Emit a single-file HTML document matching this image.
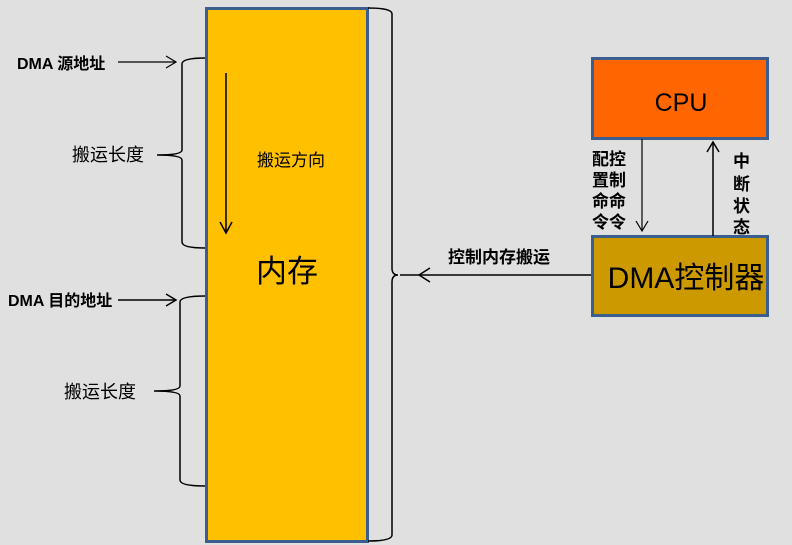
<!DOCTYPE html>
<html><head><meta charset="utf-8"><style>
html,body{margin:0;padding:0;background:#e0e0e0;}
svg{display:block;}
text{font-family:"Liberation Sans","Noto Sans CJK SC",sans-serif;fill:#000;}
</style></head><body>
<svg width="792" height="545" viewBox="0 0 792 545" xmlns="http://www.w3.org/2000/svg">
<rect width="792" height="545" fill="#e0e0e0"/>
<!-- memory -->
<rect x="206.5" y="8.5" width="161" height="533" fill="#ffc000" stroke="#3a5f8f" stroke-width="3"/>
<text x="287" y="282" font-size="31" text-anchor="middle" font-family="Noto Sans CJK SC, sans-serif">内存</text>
<text x="291" y="166" font-size="17" text-anchor="middle">搬运方向</text>
<line x1="226" y1="73" x2="226" y2="232" stroke="#000" stroke-width="1.5"/>
<polyline points="220,222 226,233 232,222" fill="none" stroke="#000" stroke-width="1.5"/>
<!-- right brace -->
<path d="M368,8 Q392,8 392,14 L392,268 Q392,275 398,275 Q392,275 392,282 L392,535 Q392,541 368,541" fill="none" stroke="#000" stroke-width="1.5"/>
<!-- left brace 1 -->
<path d="M205,58 Q182,58 182,64 L182,150 Q182,155 157,155 Q182,155 182,160 L182,242 Q182,248 205,248" fill="none" stroke="#000" stroke-width="1.5"/>
<!-- left brace 2 -->
<path d="M205,296 Q180,296 180,302 L180,386 Q180,391 154,391 Q180,391 180,396 L180,480 Q180,486 205,486" fill="none" stroke="#000" stroke-width="1.5"/>
<text x="17" y="69" font-size="16" font-weight="bold">DMA 源地址</text>
<line x1="118" y1="62" x2="176" y2="62" stroke="#000" stroke-width="1.2"/>
<polyline points="166,56 176,62 166,68" fill="none" stroke="#000" stroke-width="1.2"/>
<text x="72" y="161" font-size="18">搬运长度</text>
<text x="8" y="306" font-size="16" font-weight="bold">DMA 目的地址</text>
<line x1="118" y1="300" x2="176" y2="300" stroke="#000" stroke-width="1.5"/>
<polyline points="166,294 176,300 166,306" fill="none" stroke="#000" stroke-width="1.5"/>
<text x="64" y="398" font-size="18">搬运长度</text>
<!-- CPU -->
<rect x="592.5" y="58.5" width="175" height="80" fill="#ff6600" stroke="#3a5f8f" stroke-width="3"/>
<text x="681" y="111" font-size="25" text-anchor="middle">CPU</text>
<!-- DMA -->
<rect x="592.5" y="236.5" width="175" height="79" fill="#cc9900" stroke="#3a5f8f" stroke-width="3"/>
<text x="686" y="288" font-size="30" text-anchor="middle">DMA<tspan font-family="Noto Sans CJK SC, sans-serif">控制器</tspan></text>
<!-- arrows -->
<line x1="642" y1="139" x2="642" y2="231" stroke="#000" stroke-width="1.2"/>
<polyline points="636,221 642,231 648,221" fill="none" stroke="#000" stroke-width="1.2"/>
<line x1="713" y1="236" x2="713" y2="142" stroke="#000" stroke-width="1.5"/>
<polyline points="707,152 713,142 719,152" fill="none" stroke="#000" stroke-width="1.5"/>
<line x1="591" y1="275" x2="400" y2="275" stroke="#000" stroke-width="1.5"/>
<polyline points="430,268 419,275 430,282" fill="none" stroke="#000" stroke-width="1.5"/>
<text x="448" y="263" font-size="17" font-weight="bold">控制内存搬运</text>
<g font-size="17" font-weight="bold">
<text x="592" y="165">配控</text><text x="592" y="186">置制</text><text x="592" y="207">命命</text><text x="592" y="228">令令</text>
<text x="733" y="167">中</text><text x="733" y="190">断</text><text x="733" y="212">状</text><text x="733" y="233">态</text>
</g>
</svg>
</body></html>
